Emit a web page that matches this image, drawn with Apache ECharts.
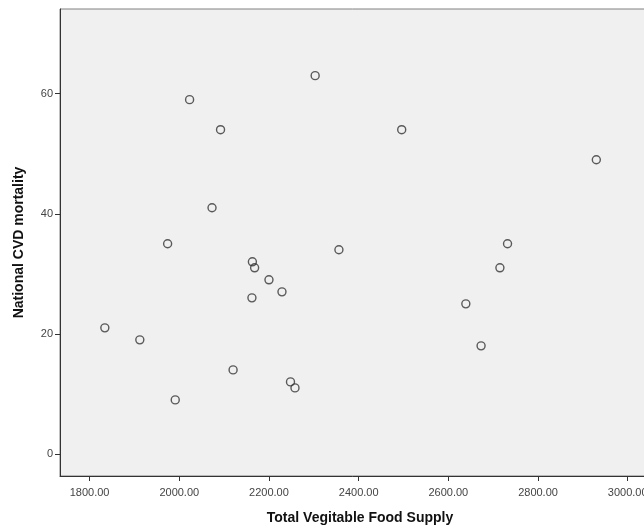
<!DOCTYPE html>
<html>
<head>
<meta charset="utf-8">
<script src="https://cdn.jsdelivr.net/npm/echarts@6/dist/echarts.min.js"></script>
<style>
  html, body { margin: 0; padding: 0; background: #ffffff; }
  #chart { width: 644px; height: 527px; }
</style>
</head>
<body>
<div id="chart"></div>
<script>
// Total vegetable food supply per country against national CVD mortality
const foodSupply = [2303, 2023, 2092, 2073, 1974, 2163, 2168, 2200, 2229, 2162, 2356, 1834,
                    1912, 2120, 2248, 2258, 1991, 2496, 2930, 2732, 2715, 2639, 2673];
const cvdMortality = [63, 59, 54, 41, 35, 32, 31, 29, 27, 26, 34, 21,
                      19, 14, 12, 11, 9, 54, 49, 35, 31, 25, 18];

const xTicks = [1800, 2000, 2200, 2400, 2600, 2800, 3000];
const yTicks = [0, 20, 40, 60];

const points = foodSupply.map((x, i) => [x, cvdMortality[i]]);

const chart = echarts.init(document.getElementById('chart'), null, { renderer: 'canvas' });

const tickLabelStyle = { color: '#444', fontFamily: 'Arial, "Liberation Sans", sans-serif', fontSize: 11 };
const titleStyle = { color: '#111', fontFamily: 'Arial, "Liberation Sans", sans-serif', fontSize: 14, fontWeight: 'bold' };

chart.setOption({
  animation: false,
  backgroundColor: '#ffffff',
  grid: {
    left: 60, top: 9, right: -16, bottom: 51,
    outerBoundsMode: 'none',
    containLabel: false,
    show: true,
    backgroundColor: '#f0f0f0',
    borderColor: '#808080',
    borderWidth: 1
  },
  xAxis: {
    type: 'value',
    min: 1734,
    max: 3072,
    name: 'Total Vegitable Food Supply',
    nameLocation: 'middle',
    nameGap: 35,
    nameTextStyle: titleStyle,
    axisLine: { show: true, onZero: false, lineStyle: { color: '#333', width: 1 } },
    axisTick: { show: true, length: 5, customValues: xTicks, lineStyle: { color: '#333', width: 1 } },
    axisLabel: Object.assign({ customValues: xTicks, margin: 11, formatter: v => v.toFixed(2) }, tickLabelStyle),
    splitLine: { show: false }
  },
  yAxis: {
    type: 'value',
    min: -3.67,
    max: 74.1,
    name: 'National CVD mortality',
    nameLocation: 'middle',
    nameGap: 34,
    nameRotate: 90,
    nameTextStyle: titleStyle,
    axisLine: { show: true, onZero: false, lineStyle: { color: '#333', width: 1 } },
    axisTick: { show: true, length: 5, customValues: yTicks, lineStyle: { color: '#333', width: 1 } },
    axisLabel: Object.assign({ customValues: yTicks, margin: 7 }, tickLabelStyle),
    splitLine: { show: false }
  },
  series: [{
    type: 'scatter',
    data: points,
    symbol: 'circle',
    symbolSize: 8,
    itemStyle: { color: 'rgba(0,0,0,0)', borderColor: '#333', borderWidth: 1.4 }
  }]
});
</script>
</body>
</html>
